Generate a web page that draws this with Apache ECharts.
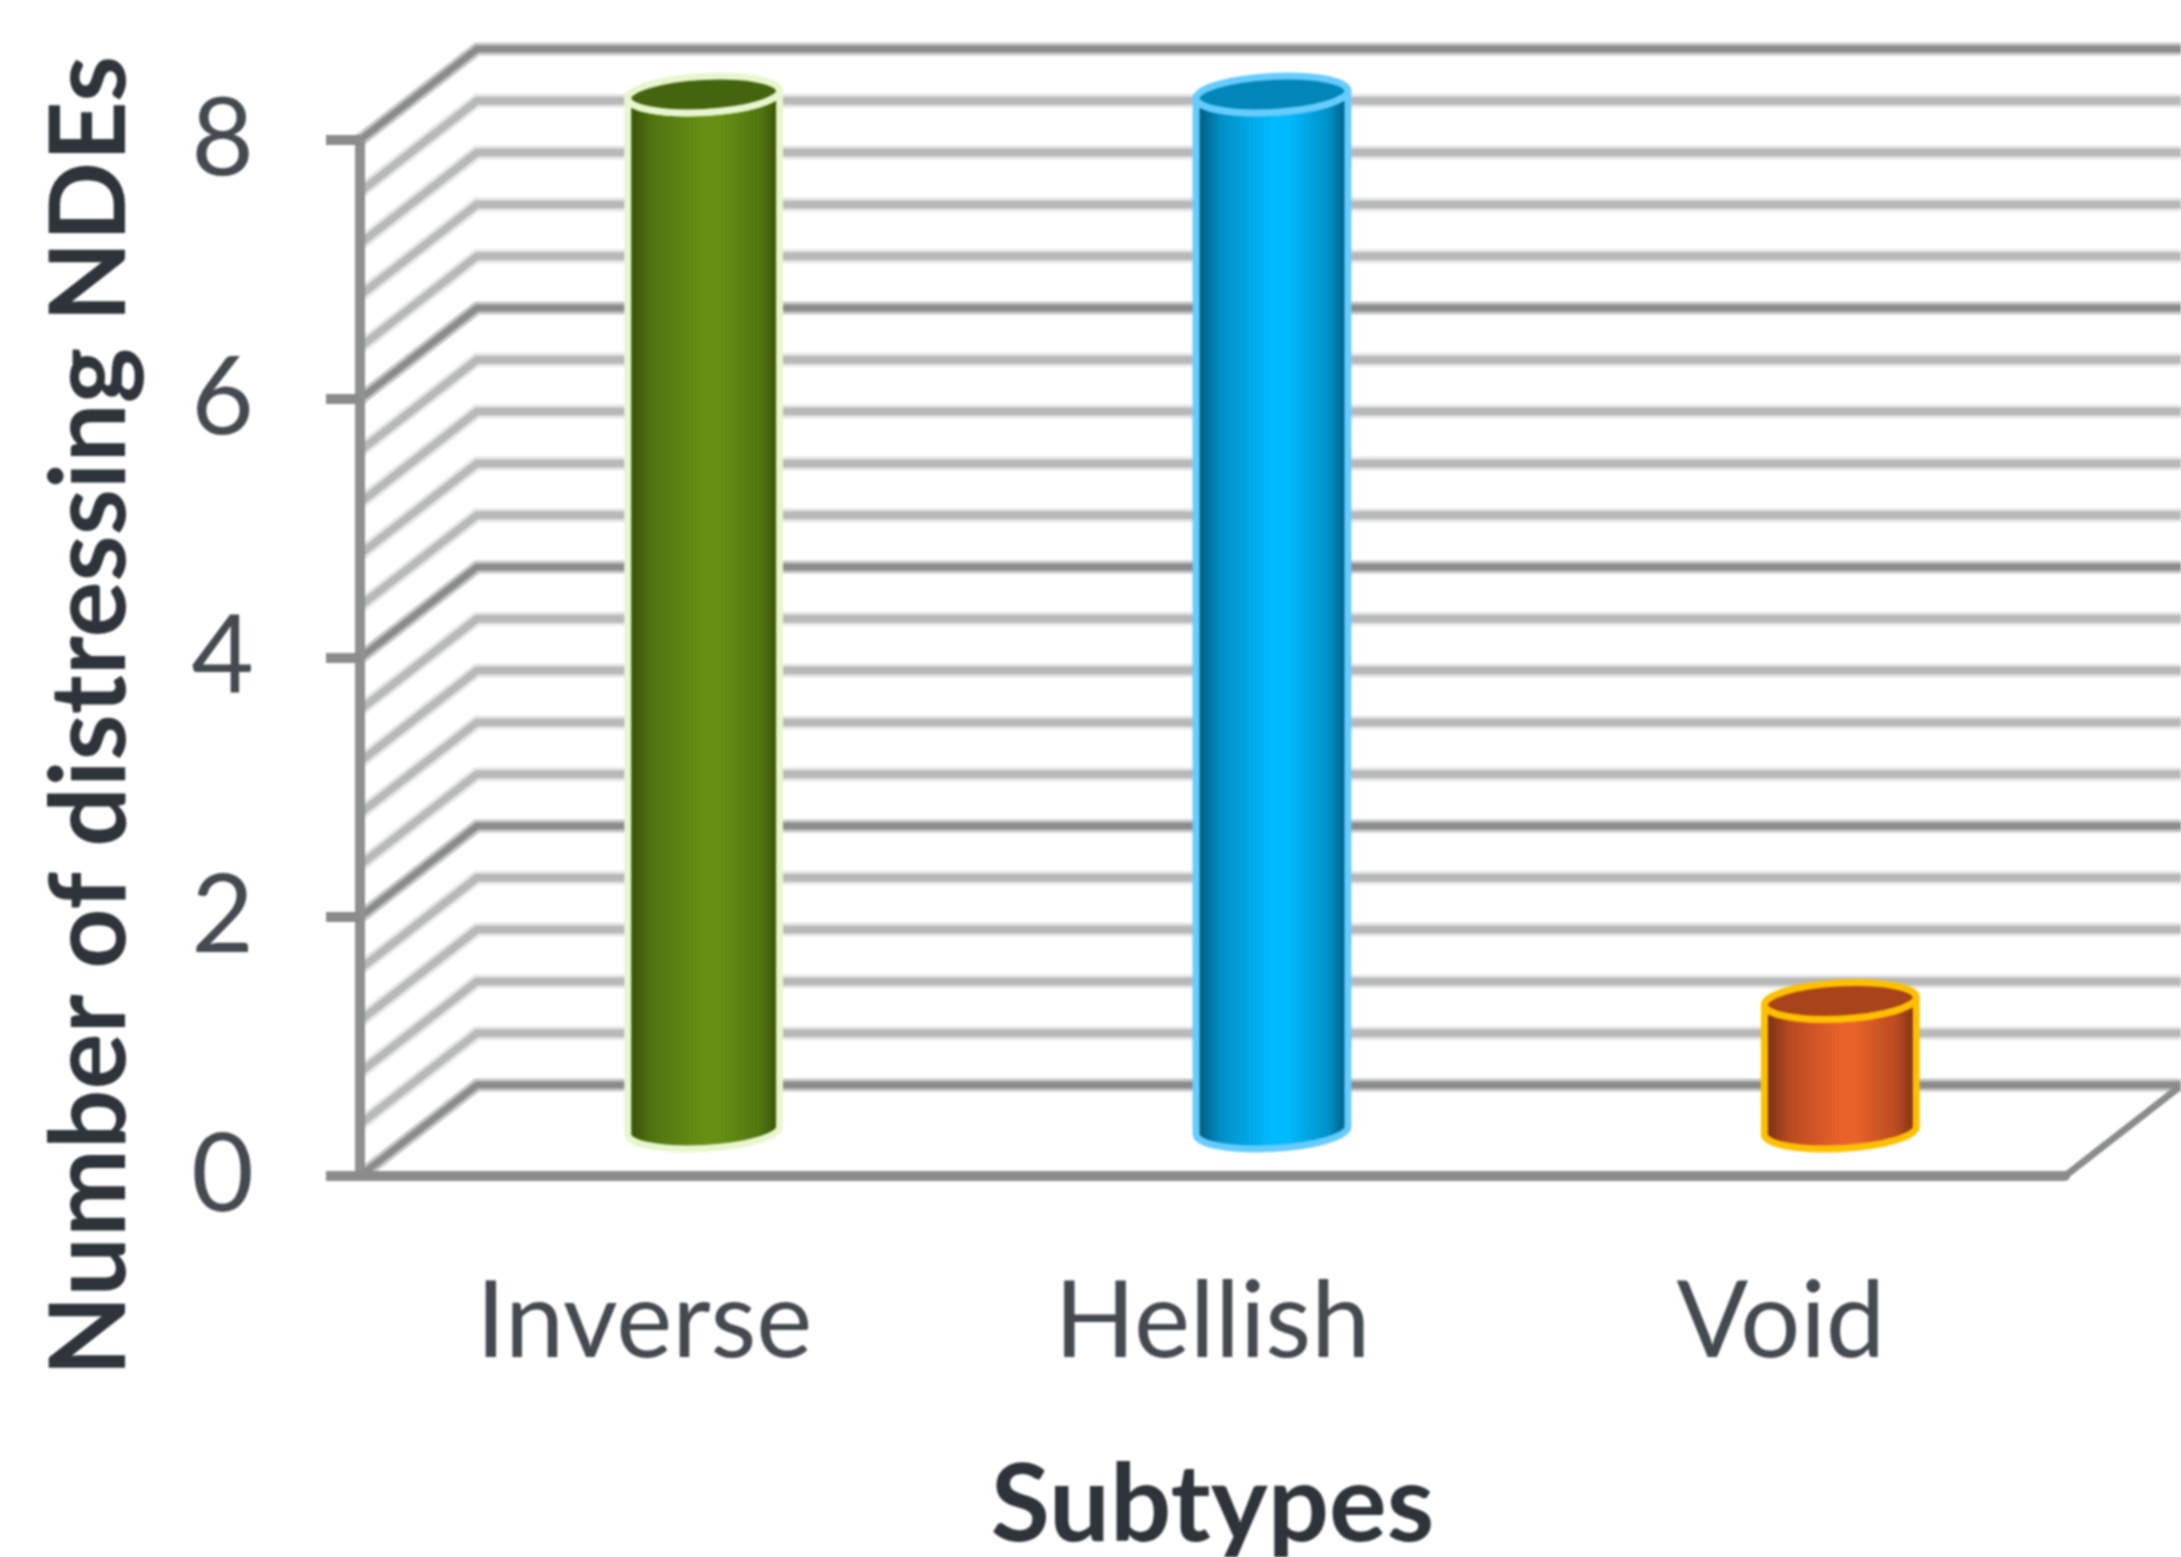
<!DOCTYPE html>
<html>
<head>
<meta charset="utf-8">
<title>Distressing NDEs by subtype</title>
<script src="https://cdn.jsdelivr.net/npm/echarts@6/dist/echarts.min.js"></script>
<style>
  html, body { margin: 0; padding: 0; background: #fff; }
  /* the reference is a soft upscaled image */
  #chart { width: 2181px; height: 1557px; filter: blur(1.1px); }
</style>
</head>
<body>
<div id="chart"></div>
<script>
// values
var categories = ['Inverse', 'Hellish', 'Void'];
var counts = [8, 8, 1];
var wallLevels = [0, 0.4, 0.8, 1.2, 1.6, 2, 2.4, 2.8, 3.2, 3.6, 4, 4.4, 4.8, 5.2, 5.6, 6, 6.4, 6.8, 7.2, 7.6, 8];

// look of the fake 3D box and the cylinders
var depthX = 117, depthY = -91;
var cylRx = 76, cylRy = 18, cylTilt = 3;
var cylColors = [
  { edge: '#3a5508', low: '#4f7510', mid: '#668f14', top: '#44650e', stroke: '#e8f6cf' },
  { edge: '#005f85', low: '#0090c6', mid: '#00baff', top: '#0086b8', stroke: '#66ccff' },
  { edge: '#7f3318', low: '#b84a20', mid: '#e8622a', top: '#a8431a', stroke: '#ffc000' }
];
var textColor = '#2f343a';
var labelColor = '#454a50';
var fontName = 'Lato';

function renderWall(params, api) {
  var level = api.value(0);
  var sys = params.coordSys;
  var y = api.coord([0, level])[1];
  var major = level % 2 === 0;
  var points = [
    [sys.x, y],
    [sys.x + depthX, y + depthY],
    [sys.x + sys.width + depthX, y + depthY]
  ];
  return {
    type: 'group',
    children: [
      { type: 'polyline', shape: { points: points },
        style: { fill: 'none', stroke: major ? '#c6c7c6' : '#e6e6e6', lineWidth: major ? 13 : 14 } },
      { type: 'polyline', shape: { points: points },
        style: { fill: 'none', stroke: major ? '#8a8c8b' : '#b7b9b8', lineWidth: major ? 7 : 8 } }
    ]
  };
}

// left and right ends of the tilted ellipses are worked out from the tilt
function renderCylinder(params, api) {
  var idx = api.value(0);
  var top = api.coord([idx, api.value(1)]);
  var bottom = api.coord([idx, 0]);
  var c = cylColors[idx];
  var cx = top[0] + depthX / 2 + 1;
  var yTop = top[1] + depthY / 2;
  var yBot = bottom[1] + depthY / 2;
  var rad = cylTilt * Math.PI / 180;
  var dx = cylRx * Math.cos(rad), dy = cylRx * Math.sin(rad);
  var arc = 'A' + cylRx + ' ' + cylRy + ' ' + (-cylTilt) + ' 0 ';
  var d = 'M' + (cx - dx) + ' ' + (yTop + dy) +
    ' L' + (cx - dx) + ' ' + (yBot + dy) +
    ' ' + arc + '0 ' + (cx + dx) + ' ' + (yBot - dy) +
    ' L' + (cx + dx) + ' ' + (yTop - dy) +
    ' ' + arc + '1 ' + (cx - dx) + ' ' + (yTop + dy) + ' Z';
  return {
    type: 'group',
    children: [
      { type: 'path', shape: { pathData: d },
        style: {
          fill: {
            type: 'linear', x: 0, y: 0, x2: 1, y2: 0,
            colorStops: [
              { offset: 0, color: c.edge },
              { offset: 0.05, color: c.edge },
              { offset: 0.18, color: c.low },
              { offset: 0.5, color: c.mid },
              { offset: 0.6, color: c.mid },
              { offset: 0.86, color: c.low },
              { offset: 0.96, color: c.edge },
              { offset: 1, color: c.edge }
            ]
          },
          stroke: c.stroke, lineWidth: 7
        } },
      { type: 'ellipse', shape: { cx: cx, cy: yTop, rx: cylRx, ry: cylRy },
        rotation: rad, originX: cx, originY: yTop,
        style: { fill: c.top, stroke: c.stroke, lineWidth: 7 } }
    ]
  };
}

var chart = echarts.init(document.getElementById('chart'), null, { renderer: 'canvas' });
chart.setOption({
  animation: false,
  backgroundColor: '#fff',
  grid: { left: 360, top: 140, width: 1705, height: 1036, outerBoundsMode: 'none' },
  xAxis: {
    type: 'category',
    data: categories,
    z: 3,
    axisLine: { lineStyle: { color: '#8a8c8b', width: 10 } },
    axisTick: { show: false },
    axisLabel: { color: labelColor, fontFamily: fontName, fontSize: 106, fontWeight: 400, margin: 94 },
    name: 'Subtypes',
    nameLocation: 'middle',
    nameGap: 276,
    nameTextStyle: { color: textColor, fontFamily: fontName, fontSize: 108, fontWeight: 'bold' }
  },
  yAxis: {
    type: 'value',
    min: 0,
    max: 8,
    interval: 2,
    z: 3,
    splitLine: { show: false },
    axisLine: { show: true, lineStyle: { color: '#8f9190', width: 10 } },
    axisTick: { show: true, length: 34, lineStyle: { color: '#8a8c8b', width: 10 } },
    axisLabel: { color: labelColor, fontFamily: fontName, fontSize: 108, fontWeight: 400, margin: 106, padding: [12, 0, 0, 0] },
    name: 'Number of distressing NDEs',
    nameLocation: 'middle',
    nameGap: 216,
    nameTextStyle: { color: textColor, fontFamily: fontName, fontSize: 105, fontWeight: 'bold', padding: [0, 116, 0, 0] }
  },
  series: [
    {
      type: 'custom',
      name: 'walls',
      z: 1,
      silent: true,
      clip: false,
      renderItem: renderWall,
      encode: { y: 0 },
      data: wallLevels.map(function (v) { return [v]; })
    },
    {
      type: 'custom',
      name: 'right edge',
      z: 2,
      silent: true,
      clip: false,
      renderItem: function (params, api) {
        var sys = params.coordSys;
        var y = api.coord([0, 0])[1];
        return { type: 'line',
          shape: { x1: sys.x + sys.width, y1: y, x2: sys.x + sys.width + depthX, y2: y + depthY },
          style: { stroke: '#8a8c8b', lineWidth: 7 } };
      },
      data: [[0]]
    },
    {
      type: 'custom',
      name: 'Number of distressing NDEs',
      z: 5,
      clip: false,
      renderItem: renderCylinder,
      encode: { x: 0, y: 1 },
      data: counts.map(function (v, i) { return [i, v]; })
    }
  ]
});
</script>
</body>
</html>
